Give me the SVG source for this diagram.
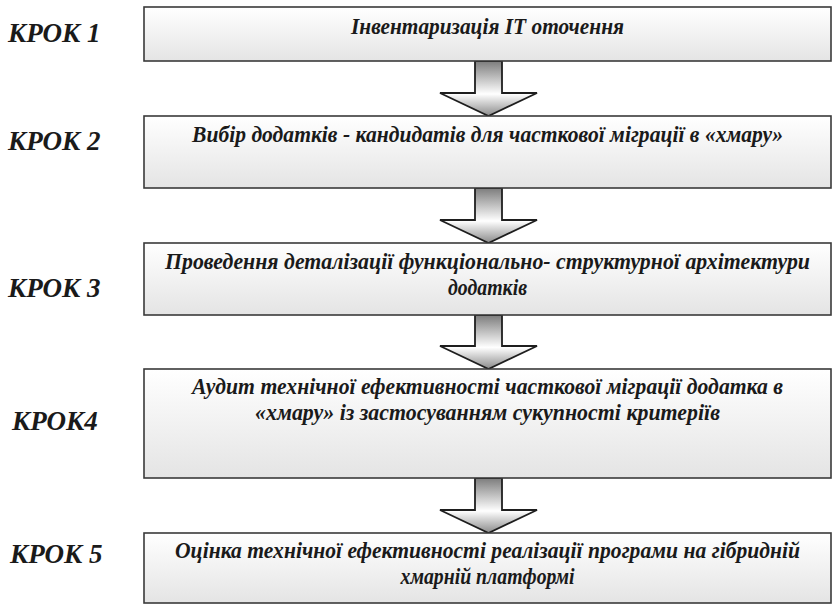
<svg xmlns="http://www.w3.org/2000/svg" width="832" height="606" viewBox="0 0 832 606">
  <style>
    .box { fill: url(#boxFill); stroke: #3a3a3a; stroke-width: 1.6; }
    .arrow { fill: url(#arrowFill); stroke: #1e1e1e; stroke-width: 1.8; stroke-linejoin: miter; }
    .step { font-family: "Liberation Serif", "Times New Roman", serif; font-weight: bold; font-style: italic; font-size: 27px; fill: #1a1a1a; }
    .txt { font-family: "Liberation Serif", "Times New Roman", serif; font-weight: bold; font-style: italic; font-size: 23px; fill: #1a1a1a; text-anchor: middle; }
  </style>
  <defs>
    <linearGradient id="boxFill" x1="0" y1="0" x2="0" y2="1">
      <stop offset="0" stop-color="#ffffff"/>
      <stop offset="1" stop-color="#e4e4e4"/>
    </linearGradient>
    <linearGradient id="arrowFill" x1="0" y1="0" x2="0" y2="1">
      <stop offset="0" stop-color="#7c7c7c"/>
      <stop offset="0.6" stop-color="#ffffff"/>
      <stop offset="1" stop-color="#8a8a8a"/>
    </linearGradient>
  </defs>

  <rect width="832" height="606" fill="#ffffff"/>

  <!-- block arrows between steps -->
  <g id="connectors">
    <path class="arrow" d="M475,61 H502 V93 H537 L488.5,116 L440,93 H475 Z"/>
    <path class="arrow" d="M475,188 H502 V220 H537 L488.5,243 L440,220 H475 Z"/>
    <path class="arrow" d="M475,315 H502 V346 H537 L488.5,369 L440,346 H475 Z"/>
    <path class="arrow" d="M475,478 H502 V510 H537 L488.5,533 L440,510 H475 Z"/>
  </g>

  <g id="step1">
    <text class="step" x="8" y="42">КРОК 1</text>
    <rect class="box" x="144" y="7" width="687" height="54"/>
    <text class="txt" x="487.5" y="34" textLength="273" lengthAdjust="spacingAndGlyphs">Інвентаризація IT оточення</text>
  </g>

  <g id="step2">
    <text class="step" x="8" y="150">КРОК 2</text>
    <rect class="box" x="144" y="116" width="687" height="72"/>
    <text class="txt" x="487.5" y="142" textLength="591" lengthAdjust="spacingAndGlyphs">Вибір додатків - кандидатів для часткової міграції в «хмару»</text>
  </g>

  <g id="step3">
    <text class="step" x="8" y="297">КРОК 3</text>
    <rect class="box" x="144" y="243" width="687" height="72"/>
    <text class="txt" x="487.5" y="269" textLength="645" lengthAdjust="spacingAndGlyphs">Проведення деталізації функціонально- структурної архітектури</text>
    <text class="txt" x="487.5" y="295" textLength="79" lengthAdjust="spacingAndGlyphs">додатків</text>
  </g>

  <g id="step4">
    <text class="step" x="12" y="430">КРОК4</text>
    <rect class="box" x="144" y="369" width="687" height="109"/>
    <text class="txt" x="487.5" y="394" textLength="591" lengthAdjust="spacingAndGlyphs">Аудит технічної ефективності часткової міграції додатка в</text>
    <text class="txt" x="487.5" y="420" textLength="465" lengthAdjust="spacingAndGlyphs">«хмару» із застосуванням сукупності критеріїв</text>
  </g>

  <g id="step5">
    <text class="step" x="10" y="563">КРОК 5</text>
    <rect class="box" x="144" y="533" width="687" height="70"/>
    <text class="txt" x="487.5" y="558" textLength="625" lengthAdjust="spacingAndGlyphs">Оцінка технічної ефективності реалізації програми на гібридній</text>
    <text class="txt" x="487.5" y="584" textLength="174" lengthAdjust="spacingAndGlyphs">хмарній платформі</text>
  </g>
</svg>
